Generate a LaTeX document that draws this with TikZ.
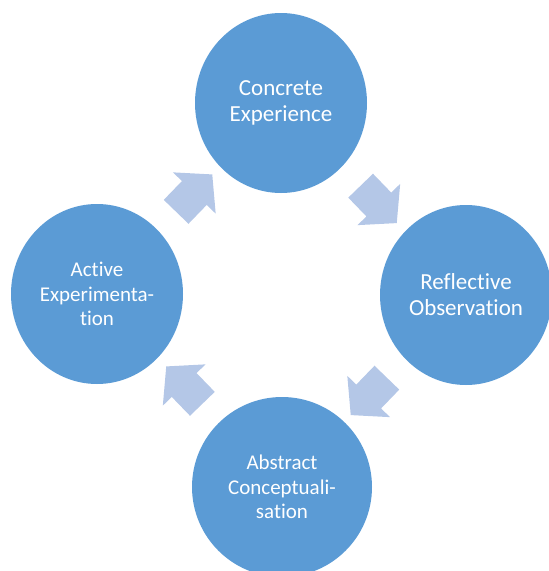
\documentclass[tikz,border=0pt]{standalone}
\usepackage{fontspec}
\setmainfont{Carlito}[Ligatures=NoCommon]
\usetikzlibrary{shapes.geometric, shapes.arrows, calc}
\definecolor{stageblue}{HTML}{5B9BD5}
\definecolor{arrowblue}{HTML}{B4C7E7}
\begin{document}
\begin{tikzpicture}[x=1pt, y=-1pt,
		stage/.style={ellipse, fill=stageblue, text=white, align=center, minimum width=172pt, minimum height=180pt, inner sep=0pt},
		bigtext/.style={font=\fontsize{23}{26}\selectfont},
		smalltext/.style={font=\fontsize{21}{24.5}\selectfont},
		turn/.style={single arrow, fill=arrowblue, single arrow tip angle=98, single arrow head extend=12.5pt, minimum height=52pt, inner sep=17pt, rotate=#1}]
		\clip (0,0) rectangle (549,571);
		\node[stage, bigtext] (concrete) at (281,103) {Concrete\\Experience};
		\node[stage, bigtext] (reflective) at (466,295) {Reflective\\Observation};
		\node[stage, smalltext, minimum width=180pt] (abstract) at (282,487) {Abstract\\Conceptuali-\\sation};
		\node[stage, smalltext] (active) at (97,294) {Active\\Experimenta-\\tion};
		% arrows between the stages
		\node[turn=-46] (concrete-reflective) at ($(concrete)!0.5!(reflective)$) {};
		\node[turn=-134] (reflective-abstract) at ($(reflective)!0.5!(abstract)$) {};
		\node[turn=134] (abstract-active) at ($(abstract)!0.5!(active)$) {};
		\node[turn=46] (active-concrete) at ($(active)!0.5!(concrete)$) {};
\end{tikzpicture}
\end{document}
